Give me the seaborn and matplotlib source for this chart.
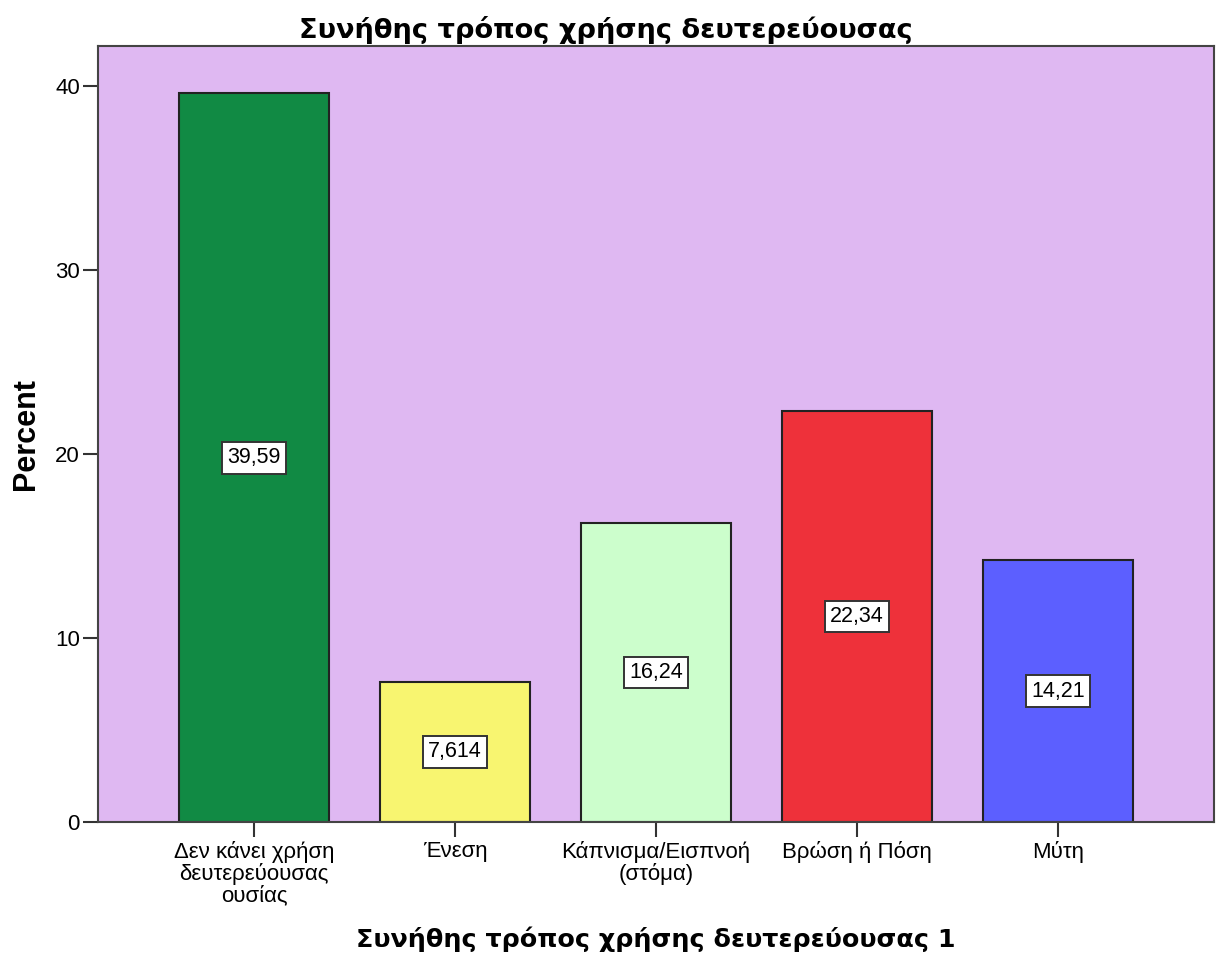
import matplotlib
matplotlib.use("Agg")
import matplotlib.pyplot as plt
import seaborn as sns
import pandas as pd

categories = [
    "Δεν κάνει χρήση\nδευτερεύουσας\nουσίας",
    "Ένεση",
    "Κάπνισμα/Εισπνοή\n(στόμα)",
    "Βρώση ή Πόση",
    "Μύτη",
]
percent = [39.59, 7.614, 16.24, 22.34, 14.21]
bar_colors = ["#118A44", "#F8F570", "#CCFECC", "#EE313A", "#5C5FFF"]
y_ticks = [0, 10, 20, 30, 40]

df = pd.DataFrame({"category": categories, "percent": percent})

sns.set_theme(style="white")
plt.rcParams["font.family"] = ["Liberation Sans", "DejaVu Sans"]
plt.rcParams["text.color"] = "black"
plt.rcParams["axes.labelcolor"] = "black"
plt.rcParams["xtick.labelcolor"] = "black"
plt.rcParams["ytick.labelcolor"] = "black"

fig = plt.figure(figsize=(12.21, 9.58), dpi=100)
ax = fig.add_axes([0.0803, 0.142, 0.9140, 0.810])
ax.set_facecolor("#DFB8F2")

sns.barplot(
    data=df, x="category", y="percent", hue="category",
    palette=bar_colors, legend=False, width=0.75,
    edgecolor="#222222", linewidth=1.5, saturation=1, ax=ax,
)

# value labels in white boxes at mid-height of each bar
for i, v in enumerate(percent):
    ax.text(
        i, v / 2, f"{v:.4g}".replace(".", ","),
        ha="center", va="center", fontsize=15.5, color="black",
        bbox=dict(boxstyle="square,pad=0.25", facecolor="white",
                  edgecolor="#333333", linewidth=1.4),
    )

ax.set_xlim(-0.776, 4.776)
ax.set_ylim(0, 42.17)
ax.set_yticks(y_ticks)
ax.tick_params(axis="both", which="both", direction="out", length=11,
               width=1.5, color="#333333", labelsize=16, pad=2,
               left=True, bottom=True)
ax.tick_params(axis="x", labelsize=16, pad=3)
for lbl in ax.get_xticklabels():
    lbl.set_linespacing(1.0)

for s in ax.spines.values():
    s.set_visible(True)
    s.set_color("#444444")
    s.set_linewidth(1.5)

ax.set_ylabel("Percent", fontsize=22, fontweight="bold", labelpad=10)
ax.set_xlabel("Συνήθης τρόπος χρήσης δευτερεύουσας 1", fontsize=18.3,
              fontweight="bold", family="DejaVu Sans")
ax.xaxis.set_label_coords(0.5, -0.151)
ax.xaxis.label.set_verticalalignment("center")
ax.set_title("Συνήθης τρόπος χρήσης δευτερεύουσας", fontsize=19.6,
             fontweight="bold", family="DejaVu Sans", pad=6, x=0.455)

fig.savefig("out.png", dpi=100)
